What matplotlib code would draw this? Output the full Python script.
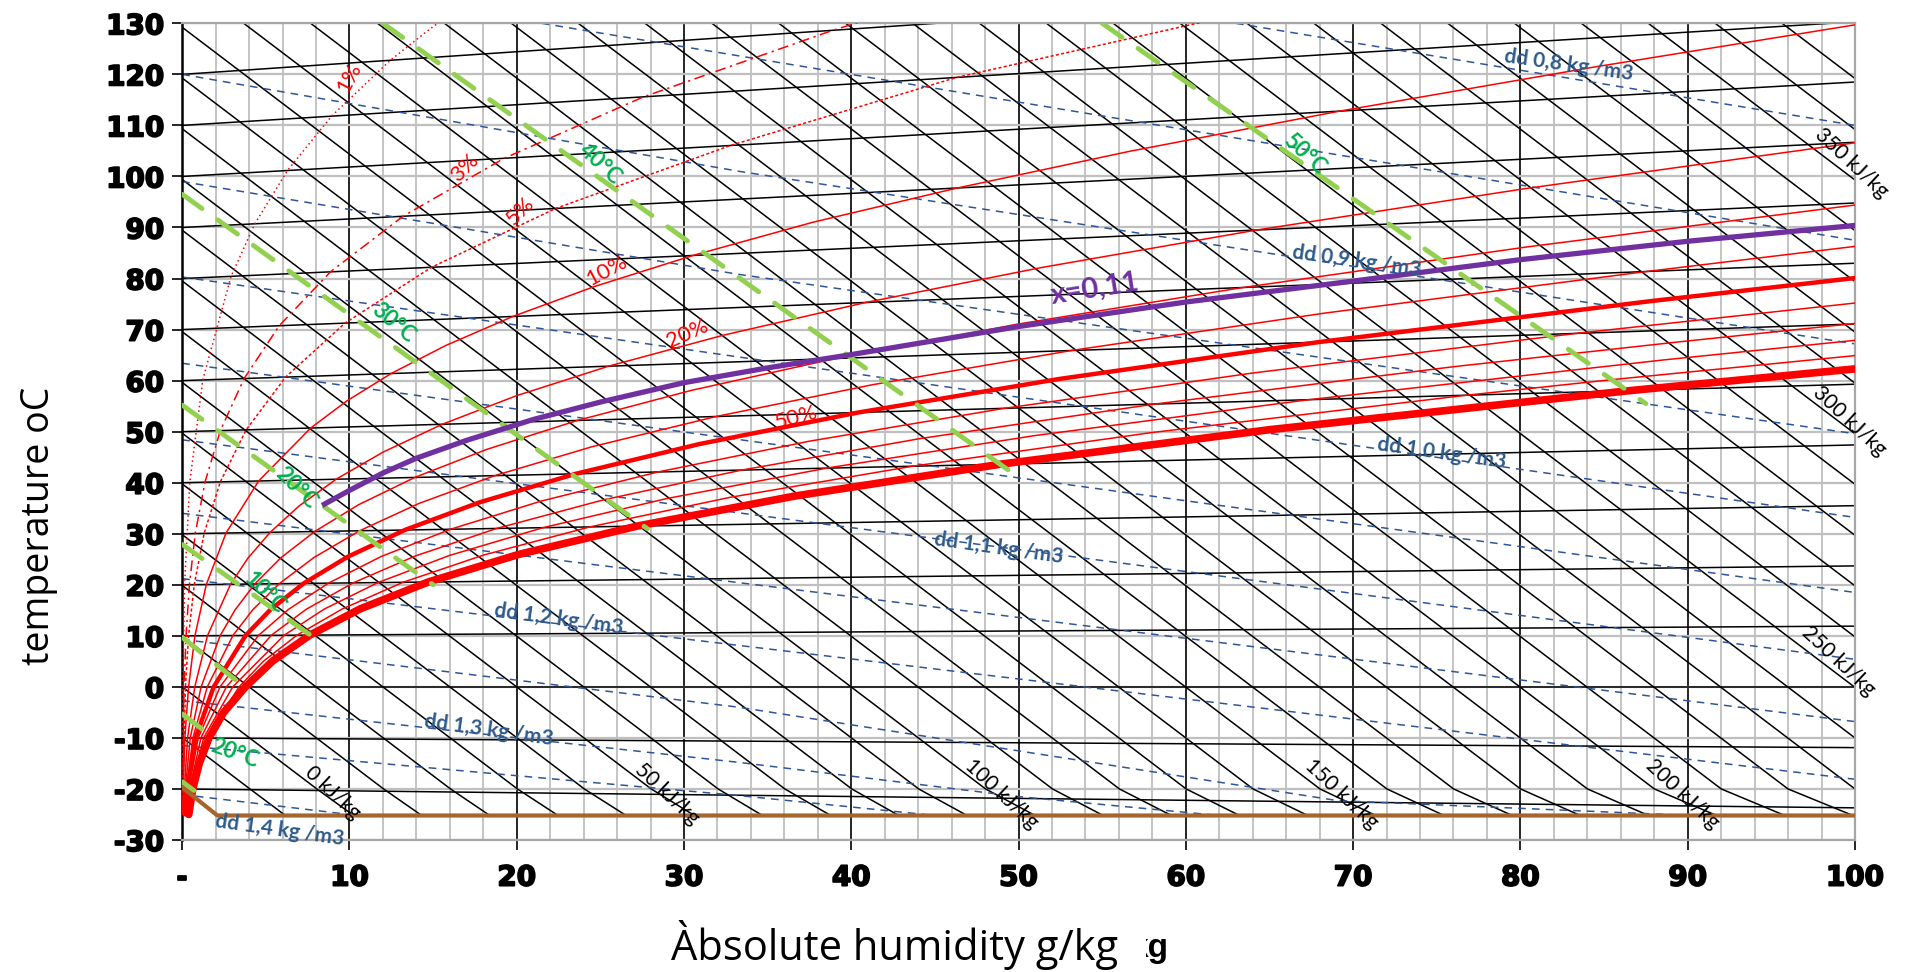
import matplotlib
matplotlib.use("Agg")
import matplotlib.pyplot as plt
import matplotlib.patheffects as pe
from matplotlib.transforms import Bbox, TransformedBbox
import numpy as np

# ---------------------------------------------------------------------------
# Values (x = absolute humidity g/kg, y = chart
# temperature axis in degC)
# ---------------------------------------------------------------------------
X_TICKS = [0, 10, 20, 30, 40, 50, 60, 70, 80, 90, 100]
X_TICK_LABELS = ["-", "10", "20", "30", "40", "50", "60", "70", "80", "90", "100"]
Y_TICKS = [-30, -20, -10, 0, 10, 20, 30, 40, 50, 60, 70, 80, 90, 100, 110, 120, 130]

# isotherms: y at x=0 and y at x=100
ISO_Y0 = [-20, -10, 0, 10, 20, 30, 40, 50, 60, 70, 80, 90, 100, 110, 120]
ISO_Y100 = [-23.7, -11.9, 0.0, 11.9, 23.7, 35.5, 47.4, 59.3, 71.1, 83.0, 94.8,
            106.7, 118.5, 130.3, 142.2]

# enthalpy lines (kJ/kg): entry point, bend on the -20 line, end point
ENTH_KJ = [-20, -10, 0, 10, 20, 30, 40, 50, 60, 70, 80, 90, 100, 110, 120, 130,
           140, 150, 160, 170, 180, 190, 200, 210, 220, 230, 240, 250, 260, 270,
           280, 290, 300, 310, 320, 330, 340, 350, 360, 370]
ENTH_X0 = [0] * 16 + [3.68, 7.68, 11.68, 15.68, 19.68, 23.68, 27.67, 31.67,
                      35.67, 39.67, 43.67, 47.67, 51.67, 55.66, 59.66, 63.66,
                      67.66, 71.66, 75.66, 79.65, 83.65, 87.65, 91.65, 95.65]
ENTH_Y0 = [-19.88, -9.94, 0.0, 9.94, 19.88, 29.82, 39.76, 49.70, 59.64, 69.58,
           79.52, 89.46, 99.40, 109.34, 119.28, 129.22] + [130] * 24
ENTH_XBEND = [np.nan, 4.05, 8.05, 12.04, 16.04, 20.04, 24.04, 28.04, 32.04,
              36.03, 40.03, 44.03, 48.03, 52.03, 56.03, 60.02, 64.02, 68.02,
              72.02, 76.01, 80.01, 84.01, 88.01, 92.01, 96.00] + [np.nan] * 15
ENTH_XEND = [2.10, 6.17, 10.25, 14.32, 18.39, 22.47, 26.54, 30.62, 34.69, 38.77,
             42.84, 46.92, 50.99, 55.06, 59.14, 63.21, 67.29, 71.36, 75.44,
             79.51, 83.58, 87.66, 91.73, 95.81, 99.88] + [100] * 15
ENTH_YEND = [-25.2] * 25 + [-20.0, -10.0, -0.1, 9.8, 19.8, 29.7, 39.7, 49.6,
                            59.5, 69.5, 79.4, 89.4, 99.3, 109.2, 119.2]
ENTH_LABELS = ["0 kJ/kg", "50 kJ/kg", "100 kJ/kg", "150 kJ/kg", "200 kJ/kg",
               "250 kJ/kg", "300 kJ/kg", "350 kJ/kg"]
ENTH_LABEL_X = [9.0, 29.0, 49.0, 69.3, 89.7, 99.0, 99.7, 99.8]
ENTH_LABEL_Y = [-20.8, -21.0, -21.0, -21.0, -21.0, 5.0, 52.0, 102.6]

# relative humidity curves
RH_NAMES = ["100%", "90%", "80%", "70%", "60%", "50%", "40%", "30%", "20%",
            "10%", "5%", "3%", "1%"]
RH_X = [
    [0.39, 0.63, 1.02, 1.60, 2.48, 3.78, 5.40, 7.63, 10.65, 14.70, 20.09, 27.21,
     36.59, 48.90, 65.06, 86.35, 100.0],
    [0.35, 0.57, 1.44, 3.40, 4.86, 6.86, 9.57, 13.20, 18.02, 24.38, 32.73,
     43.66, 57.95, 76.65, 85.5, 100.0],
    [0.31, 0.51, 1.28, 3.02, 6.09, 8.49, 11.70, 15.97, 21.58, 28.93, 38.51,
     50.98, 67.22, 88.41, 100.0],
    [0.27, 0.44, 1.12, 2.64, 5.32, 7.42, 10.22, 13.93, 18.80, 25.17, 33.44,
     44.16, 58.03, 76.01, 89.5, 100.0],
    [0.23, 0.38, 0.96, 2.26, 4.56, 6.35, 8.74, 11.90, 16.05, 21.45, 28.44,
     37.47, 49.09, 64.04, 83.31, 100.0],
    [0.20, 0.32, 0.80, 1.88, 3.79, 5.28, 7.26, 9.88, 13.31, 17.77, 23.52,
     30.91, 40.37, 52.46, 67.90, 87.70, 100.0],
    [0.16, 0.25, 0.64, 1.50, 3.03, 4.22, 5.80, 7.88, 10.61, 14.14, 18.68,
     24.49, 31.89, 41.27, 53.16, 68.24, 87.37, 100.0],
    [0.12, 0.19, 0.48, 1.13, 2.27, 3.16, 4.34, 5.89, 7.92, 10.54, 13.90, 18.19,
     23.61, 30.45, 39.04, 49.81, 63.31, 80.25, 100.0],
    [0.08, 0.13, 0.32, 0.75, 1.51, 2.89, 3.92, 5.26, 6.99, 9.20, 12.01, 15.54,
     19.97, 25.49, 32.34, 40.82, 51.29, 64.22, 80.21, 100.0],
    [0.04, 0.06, 0.16, 0.38, 0.76, 1.44, 2.62, 4.57, 7.68, 9.83, 12.49, 15.76,
     19.76, 24.63, 30.53, 37.67, 46.29, 56.67, 69.18, 84.27, 100.0],
    [0.02, 0.19, 0.38, 0.72, 1.31, 2.28, 3.82, 6.18, 9.73, 14.90, 22.31, 32.77,
     39.46, 46.29, 56.68, 61.93],
    [0.01, 0.11, 0.23, 0.43, 0.78, 1.36, 2.28, 3.70, 5.80, 8.86, 13.20, 19.25,
     27.58, 38.89, 41.59],
    [0.0, 0.04, 0.14, 0.45, 1.23, 2.92, 4.34, 6.29, 8.93, 12.44, 14.60, 15.54],
]
RH_Y = [
    [-25.0, -20.0, -15.0, -10.0, -5.0, 0.0, 5.05, 10.14, 15.30, 20.54, 25.93,
     31.51, 37.37, 43.62, 50.41, 57.98, 62.3],
    [-25.0, -20.0, -10.0, 0.0, 5.04, 10.13, 15.27, 20.49, 25.83, 31.35, 37.12,
     43.23, 49.82, 57.09, 60.2, 64.9],
    [-25.0, -20.0, -10.0, 0.0, 10.11, 15.24, 20.43, 25.74, 31.20, 36.87, 42.85,
     49.24, 56.21, 64.0, 67.9],
    [-25.0, -20.0, -10.0, 0.0, 10.10, 15.21, 20.38, 25.64, 31.04, 36.63, 42.47,
     48.67, 55.36, 62.73, 67.6, 71.2],
    [-25.0, -20.0, -10.0, 0.0, 10.08, 15.18, 20.32, 25.55, 30.89, 36.39, 42.10,
     48.12, 54.54, 61.51, 69.24, 75.2],
    [-25.0, -20.0, -10.0, 0.0, 10.07, 15.15, 20.27, 25.46, 30.74, 36.15, 41.74,
     47.57, 53.73, 60.34, 67.53, 75.54, 80.1],
    [-25.0, -20.0, -10.0, 0.0, 10.06, 15.12, 20.21, 25.36, 30.59, 35.92, 41.38,
     47.04, 52.95, 59.20, 65.90, 73.20, 81.31, 86.3],
    [-25.0, -20.0, -10.0, 0.0, 10.04, 15.09, 20.16, 25.27, 30.44, 35.68, 41.03,
     46.51, 52.18, 58.10, 64.33, 70.99, 78.19, 86.13, 94.4],
    [-25.0, -20.0, -10.0, 0.0, 10.03, 20.11, 25.18, 30.29, 35.45, 40.68, 46.0,
     51.44, 57.03, 62.83, 68.89, 75.28, 82.11, 89.50, 97.58, 106.6],
    [-25.0, -20.0, -10.0, 0.0, 10.01, 20.05, 30.15, 40.34, 50.71, 56.0, 61.39,
     66.89, 72.56, 78.42, 84.52, 91.0, 97.70, 104.95, 112.79, 121.36, 129.7],
    [-25.0, 0.0, 10.0, 20.03, 30.07, 40.17, 50.35, 60.69, 71.26, 82.20, 93.71,
     106.06, 112.66, 119.4, 127.05, 130.95],
    [-25.0, 0.0, 10.0, 20.0, 30.04, 40.1, 50.21, 60.41, 70.75, 81.31, 92.2,
     103.56, 115.6, 128.63, 131.4],
    [-25.0, 0.0, 20.0, 40.0, 60.14, 80.43, 90.72, 101.16, 111.82, 122.76,
     128.37, 130.65],
]
RH_LABELS = ["1%", "3%", "5%", "10%", "20%", "50%"]
RH_LABEL_X = [10.0, 16.9, 20.2, 25.4, 30.2, 36.7]
RH_LABEL_Y = [119.4, 101.7, 93.2, 81.5, 69.3, 52.8]
RH_LABEL_ROT = [62, 45, 45, 28, 24, 15]

# dry air density lines (kg/m3)
DENSITY = [0.80, 0.85, 0.90, 0.95, 1.00, 1.05, 1.10, 1.15, 1.20, 1.25, 1.30,
           1.35, 1.40]
DENSITY_X = [
    [63.0, 100], [21.5, 100], [0, 33.3, 100], [0, 33.3, 100], [0, 100],
    [0, 100], [0, 100], [0, 100], [0, 100], [0, 33.3, 69.1, 90.2],
    [0, 33.3, 50, 62], [0, 20, 33.3, 45], [0, 10.5],
]
DENSITY_Y = [
    [130, 110.0], [130, 87.5], [120.0, 101.0, 67.2], [99.0, 80.8, 49.6],
    [80.3, 33.2], [63.4, 18.5], [48.4, 5.4], [34.0, -6.8], [21.2, -18.1],
    [9.3, -4.0, -22.3, -25.2], [-2.7, -14.8, -21.5, -25.2],
    [-11.5, -17.4, -21.3, -25.2], [-21.1, -25.2],
]
DENSITY_LABELS = ["dd 0,8 kg /m3", "dd 0,9 kg /m3", "dd 1,0 kg /m3",
                  "dd 1,1 kg /m3", "dd 1,2 kg /m3", "dd 1,3 kg /m3",
                  "dd 1,4 kg /m3"]
DENSITY_LABEL_X = [82.9, 70.2, 75.3, 48.8, 22.5, 18.3, 5.8]
DENSITY_LABEL_Y = [121.8, 83.4, 45.8, 27.2, 13.3, -8.4, -28.0]

# wet bulb lines
WETBULB_X = [[55.0, 87.5], [12.0, 49.8], [0, 27.8], [0, 15.0], [0, 7.9],
             [0, 3.6], [0, 1.8], [0, 0.7]]
WETBULB_Y = [[130, 55.5], [130, 41.5], [96.5, 31.0], [55.2, 20.0], [27.9, 9.6],
             [9.7, 0.3], [-5.3, -9.8], [-18.6, -20.3]]
WETBULB_LABELS = ["50°C", "40°C", "30°C", "20°C", "10°C", "20°C"]
WETBULB_LABEL_X = [67.1, 25.0, 12.6, 6.8, 4.9, 3.1]
WETBULB_LABEL_Y = [104.3, 102.5, 71.3, 38.9, 18.4, -13.0]
WETBULB_LABEL_ROT = [-43, -43, -40, -45, -45, -20]

# process line x = 0,11
PROCESS_X = [8.5, 10, 12, 14, 17, 21, 25, 30, 35, 40, 50, 60, 70, 80, 90, 100]
PROCESS_Y = [35.8, 38.5, 41.9, 44.8, 48.3, 52.4, 55.8, 59.6, 62.5, 65.1, 70.6,
             75.4, 79.5, 83.7, 87.3, 90.4]

# lower limit (brown)
LIMIT_X = [0, 2.1, 100]
LIMIT_Y = [-19.7, -25.2, -25.2]

# ---------------------------------------------------------------------------
RED = "#FF0000"
BLUE = "#2F5597"
GREEN = "#92D050"
GREEN_TXT = "#00B050"
PURPLE = "#7030A0"
BROWN = "#A5662E"
GRID = "#BFBFBF"
LABEL_FONT = ["Lato", "DejaVu Sans"]
TITLE_FONT = ["Open Sans", "DejaVu Sans"]

fig = plt.figure(figsize=(19.08, 9.72), dpi=100)
ax = fig.add_axes([0.0955, 0.1358, 0.8767, 0.8402])
ax.set_xlim(0, 100)
ax.set_ylim(-30, 130)

heavy = [pe.withStroke(linewidth=1.3, foreground="black")]
ax.set_xticks(X_TICKS)
ax.set_xticks(np.arange(0, 101, 2), minor=True)
ax.set_yticks(Y_TICKS)
ax.set_xticklabels(X_TICK_LABELS, fontweight="bold", fontsize=20)
ax.set_yticklabels([str(v) for v in Y_TICKS], fontweight="bold", fontsize=20)
for lbl in ax.get_xticklabels() + ax.get_yticklabels():
    lbl.set_path_effects(heavy)
ax.tick_params(which="major", length=7, width=1.2, color="black", pad=6)
ax.tick_params(axis="x", which="major", pad=10)
ax.tick_params(which="minor", length=0)

ax.set_axisbelow(True)
ax.grid(which="minor", axis="x", color=GRID, lw=1.3)
ax.grid(which="major", axis="x", color="black", lw=1.2)
ax.grid(which="major", axis="y", color=GRID, lw=1.6)
for side in ["top", "right", "bottom"]:
    ax.spines[side].set_color("#A6A6A6")
    ax.spines[side].set_linewidth(1.6)
ax.spines["left"].set_color("black")
ax.spines["left"].set_linewidth(1.8)

# isotherms
for y0, y1 in zip(ISO_Y0, ISO_Y100):
    ax.plot([0, 100], [y0, y1], color="black", lw=1.1, zorder=2)

# enthalpy lines
for i in range(len(ENTH_KJ)):
    xs = [ENTH_X0[i]]
    ys = [ENTH_Y0[i]]
    if not np.isnan(ENTH_XBEND[i]):
        xs.append(ENTH_XBEND[i])
        ys.append(-20)
    xs.append(ENTH_XEND[i])
    ys.append(ENTH_YEND[i])
    ax.plot(xs, ys, color="black", lw=1.1, zorder=2)

for text, x, y in zip(ENTH_LABELS, ENTH_LABEL_X, ENTH_LABEL_Y):
    ax.text(x, y, text, rotation=-43, ha="center", va="center", fontsize=15,
            family=LABEL_FONT, color="black", zorder=6)

# density lines
for xs, ys in zip(DENSITY_X, DENSITY_Y):
    ax.plot(xs, ys, color=BLUE, lw=1.1, dashes=(5, 4), zorder=2.5)
for text, x, y in zip(DENSITY_LABELS, DENSITY_LABEL_X, DENSITY_LABEL_Y):
    ax.text(x, y, text, rotation=-8, ha="center", va="center", fontsize=15,
            fontweight="bold", family=LABEL_FONT, color="#2E5A8C", zorder=6)

# relative humidity curves
for name, xs, ys in zip(RH_NAMES, RH_X, RH_Y):
    style = {"lw": 1.1}
    if name == "100%":
        style = {"lw": 5.5}
    elif name == "50%":
        style = {"lw": 3.2}
    elif name == "5%":
        style = {"lw": 1.1, "dashes": (2, 1.5)}
    elif name == "3%":
        style = {"lw": 1.1, "dashes": (7, 3, 1.5, 3)}
    elif name == "1%":
        style = {"lw": 1.1, "dashes": (1, 2)}
    ax.plot(xs, ys, color=RED, zorder=3, solid_capstyle="round", **style)

for text, x, y, r in zip(RH_LABELS, RH_LABEL_X, RH_LABEL_Y, RH_LABEL_ROT):
    ax.text(x, y, text, rotation=r, ha="center", va="center", fontsize=16,
            family=LABEL_FONT, color=RED, zorder=6)

# wet bulb lines
for xs, ys in zip(WETBULB_X, WETBULB_Y):
    ax.plot(xs, ys, color=GREEN, lw=3.5, dashes=(5, 4), zorder=4,
            dash_capstyle="round")
for text, x, y, r in zip(WETBULB_LABELS, WETBULB_LABEL_X, WETBULB_LABEL_Y,
                         WETBULB_LABEL_ROT):
    ax.text(x, y, text, rotation=r, ha="center", va="center", fontsize=16,
            fontweight="bold", family=LABEL_FONT, color=GREEN_TXT, zorder=6)

# lower limit and process line
ax.plot(LIMIT_X, LIMIT_Y, color=BROWN, lw=3, zorder=4.5)
ax.plot(PROCESS_X, PROCESS_Y, color=PURPLE, lw=3.8, zorder=5)
ax.text(54.6, 78.0, "x=0,11", rotation=9, ha="center", va="center",
        fontsize=21, fontweight="bold", family=LABEL_FONT, color=PURPLE,
        zorder=6)

# axis titles
fig.text(0.0205, 0.459, "temperature oC", rotation=90, ha="center",
         va="center", fontsize=27, family=TITLE_FONT)
fig.text(0.469, 0.028, "Àbsolute humidity g/kg", ha="center", va="center",
         fontsize=30, family=TITLE_FONT)
stub = fig.text(0.592, 0.024, "kg", ha="left", va="center", fontsize=24,
                fontweight="bold", family=["Liberation Sans", "DejaVu Sans"])
stub.set_clip_box(TransformedBbox(Bbox([[0.6005, 0.0], [0.63, 0.06]]),
                                  fig.transFigure))
stub.set_clip_on(True)

fig.savefig("out.png", dpi=100)
